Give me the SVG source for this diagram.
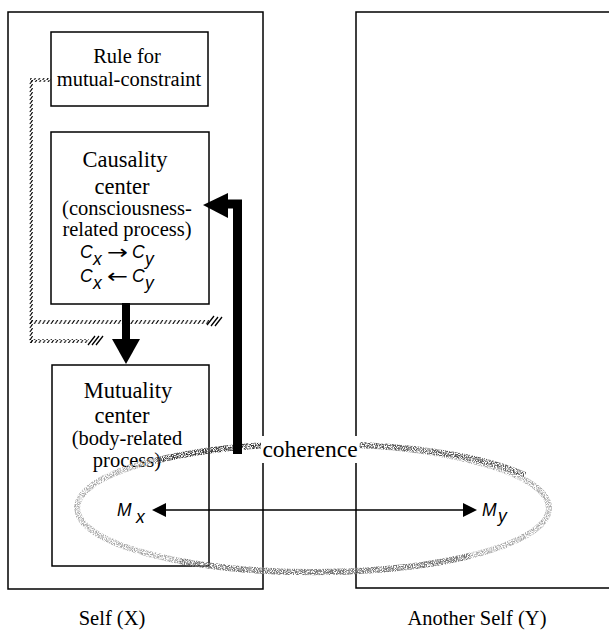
<svg xmlns="http://www.w3.org/2000/svg" width="609" height="635" viewBox="0 0 609 635">
<style>
.box{fill:none;stroke:#000;stroke-width:1.5}
.t{font-family:"Liberation Serif","Times New Roman",serif;fill:#000;text-anchor:middle}
.h{font-size:22.5px}
.s{font-size:20.5px}
.m{font-family:"Liberation Sans",Arial,sans-serif;font-style:italic;font-size:17.5px;fill:#000}
.ar{font-family:"DejaVu Sans",sans-serif;font-size:20px;fill:#000}
.hatch{fill:url(#hp)}
</style>
<defs>
<pattern id="hp" patternUnits="userSpaceOnUse" width="4.2" height="4">
<path d="M0.6,4 L3.2,0" stroke="#000" stroke-width="1.1"/>
</pattern>
<filter id="speckle" x="-10%" y="-30%" width="120%" height="160%">
<feTurbulence type="fractalNoise" baseFrequency="0.9" numOctaves="2" seed="4" result="n"/>
<feColorMatrix in="n" type="matrix" values="0 0 0 0 0  0 0 0 0 0  0 0 0 0 0  3.4 0 0 0 -1.25" result="m"/>
<feComposite in="SourceGraphic" in2="m" operator="in"/>
</filter>
</defs>
<rect width="609" height="635" fill="#fff"/>

<g id="self-x">
<rect class="box" x="8" y="12" width="255" height="577"/>
<text class="t s" x="112" y="625">Self (X)</text>
</g>
<g id="another-self-y">
<path class="box" d="M612,12 H356 V588 H612"/>
<text class="t s" x="477" y="625">Another Self (Y)</text>
</g>

<g id="rule-node">
<rect class="box" x="51" y="32" width="157" height="74"/>
<text class="t s" x="127" y="63">Rule for</text>
<text class="t s" x="129" y="86">mutual-constraint</text>
</g>

<g id="causality-node">
<rect class="box" x="51" y="132" width="158" height="172"/>
<text class="t h" x="125" y="167">Causality</text>
<text class="t h" x="122" y="194">center</text>
<text class="t s" x="127" y="215">(consciousness-</text>
<text class="t s" x="127" y="236">related process)</text>
<text class="m" x="80" y="258">C</text><text class="m" x="93" y="265">x</text>
<text class="ar" x="107" y="259" textLength="21" lengthAdjust="spacingAndGlyphs">→</text>
<text class="m" x="132" y="258">C</text><text class="m" x="145" y="265">y</text>
<text class="m" x="80" y="282">C</text><text class="m" x="93" y="289">x</text>
<text class="ar" x="107" y="283" textLength="21" lengthAdjust="spacingAndGlyphs">←</text>
<text class="m" x="132" y="282">C</text><text class="m" x="145" y="289">y</text>
</g>

<g id="mutuality-node">
<rect class="box" x="52" y="365" width="157" height="201"/>
<text class="t h" x="128" y="398">Mutuality</text>
<text class="t h" x="122" y="423">center</text>
<text class="t s" x="127" y="445">(body-related</text>
<text class="t s" x="127" y="467">process)</text>
</g>

<g id="coherence">
<ellipse cx="313" cy="508" rx="236" ry="64" fill="none" stroke="#a8a8a8" stroke-width="6" filter="url(#speckle)"/>
<path d="M155,461 A236,64 0 0 1 330,444" fill="none" stroke="#333" stroke-width="6" filter="url(#speckle)"/>
<path d="M360,445 A236,64 0 0 1 525,475" fill="none" stroke="#555" stroke-width="6" filter="url(#speckle)"/>
<path d="M470,556 A236,64 0 0 1 180,561" fill="none" stroke="#707070" stroke-width="6" filter="url(#speckle)"/>
<rect x="261" y="436" width="98" height="27" fill="#fff"/>
<text x="310" y="457" font-family="Liberation Serif, Times New Roman, serif" font-size="23.5" text-anchor="middle" fill="#000">coherence</text>
</g>

<g id="connectors">
<g id="hatched-path">
<rect class="hatch" x="30" y="78" width="21" height="4"/>
<rect class="hatch" x="29" y="80" width="4" height="263"/>
<rect class="hatch" x="29" y="320" width="180" height="4"/>
<rect class="hatch" x="29" y="339" width="60" height="4"/>
<path d="M207,325 L214,316 M211,326 L218,317 M215,326 L222,317 M88,345 L95,336 M92,345 L99,336 M96,345 L103,336" stroke="#000" stroke-width="1.3"/>
</g>
<g id="arrow-down">
<line x1="126" y1="303" x2="126" y2="341" stroke="#000" stroke-width="8"/>
<polygon points="112,339 140,339 126,364" fill="#000"/>
</g>
<g id="arrow-up">
<path d="M237.5,454 V204 H225" fill="none" stroke="#000" stroke-width="9" stroke-linejoin="miter"/>
<polygon points="203,205 228,193 228,218" fill="#000"/>
</g>
<g id="arrow-mutual">
<line x1="162" y1="510" x2="467" y2="510" stroke="#000" stroke-width="1.6"/>
<polygon points="152,510 166,503 166,517" fill="#000"/>
<polygon points="477,510 463,503 463,517" fill="#000"/>
</g>
</g>

<g id="m-labels">
<text class="m" x="117" y="516">M</text><text class="m" x="136" y="523">x</text>
<text class="m" x="482" y="516">M</text><text class="m" x="498" y="522">y</text>
</g>
</svg>
